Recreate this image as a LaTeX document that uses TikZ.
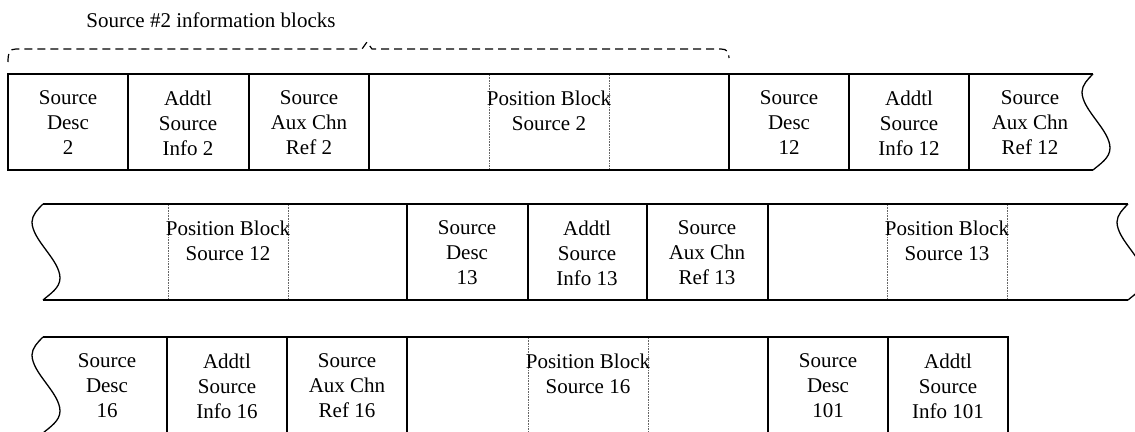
\documentclass[tikz,border=0pt]{standalone}
\usepackage{fontspec}
\setmainfont{Liberation Serif}
\begin{document}
\begin{tikzpicture}[x=1pt,y=-1pt,
  txt/.style={font=\fontsize{21}{25}\selectfont, align=center, inner sep=0pt},
  edge/.style={line width=1.3pt},
  sep/.style={line width=1.3pt},
  dots/.style={densely dotted, line width=0.6pt, black!60},
  brace/.style={line width=1.2pt, dash pattern=on 8pt off 5pt},
  wave/.pic={\draw[line width=1.3pt] (0,0) .. controls (-5,5) and (-11,11) .. (-11,18)
      .. controls (-11,36) and (17,56) .. (17,74)
      .. controls (17,84) and (7,90) .. (0,96);}
]
\useasboundingbox (0,0) rectangle (1135,431);

% caption and brace
\node[txt] (cap) at (211,20) {Source \#2 information blocks};
\draw[brace] (8,62) .. controls (8,52) and (10,49) .. (16,49) -- (362,49) -- (367,42) -- (372,49) -- (721,49) .. controls (727,49) and (729,52) .. (729,58);

% ---------- row 1 ----------
\draw[edge] (1093,74) -- (8,74) -- (8,170) -- (1093,170);
\pic at (1093,74) {wave};
\foreach \x in {128,249,369,729,849,969} \draw[sep] (\x,74) -- (\x,170);
\foreach \x in {489,609} \draw[dots] (\x,75) -- (\x,169);
\node[txt] (a1) at (68,123) {Source\\Desc\\2};
\node[txt] (a2) at (188,123) {Addtl\\Source\\Info 2};
\node[txt] (a3) at (309,123) {Source\\Aux Chn\\Ref 2};
\node[txt] (a4) at (549,110.5) {Position Block\\Source 2};
\node[txt] (a5) at (789,123) {Source\\Desc\\12};
\node[txt] (a6) at (909,123) {Addtl\\Source\\Info 12};
\node[txt] (a7) at (1030,123) {Source\\Aux Chn\\Ref 12};

% ---------- row 2 ----------
\draw[edge] (43,204) -- (1128,204);
\draw[edge] (43,300) -- (1128,300);
\pic at (43,204) {wave};
\pic at (1128,204) {wave};
\foreach \x in {407,528,647,768} \draw[sep] (\x,204) -- (\x,300);
\foreach \x in {168,288,887,1007} \draw[dots] (\x,205) -- (\x,299);
\node[txt] (b1) at (228,240.5) {Position Block\\Source 12};
\node[txt] (b2) at (467,253) {Source\\Desc\\13};
\node[txt] (b3) at (587,253) {Addtl\\Source\\Info 13};
\node[txt] (b4) at (707,253) {Source\\Aux Chn\\Ref 13};
\node[txt] (b5) at (947,240.5) {Position Block\\Source 13};

% ---------- row 3 ----------
\draw[edge] (43,337) -- (1008,337) -- (1008,434) -- (43,434);
\pic at (43,337) {wave};
\foreach \x in {167,287,407,768,888} \draw[sep] (\x,337) -- (\x,434);
\foreach \x in {528,648} \draw[dots] (\x,338) -- (\x,433);
\node[txt] (c1) at (107,386) {Source\\Desc\\16};
\node[txt] (c2) at (227,386) {Addtl\\Source\\Info 16};
\node[txt] (c3) at (347,386) {Source\\Aux Chn\\Ref 16};
\node[txt] (c4) at (588,373.5) {Position Block\\Source 16};
\node[txt] (c5) at (828,386) {Source\\Desc\\101};
\node[txt] (c6) at (948,386) {Addtl\\Source\\Info 101};
\end{tikzpicture}
\end{document}
